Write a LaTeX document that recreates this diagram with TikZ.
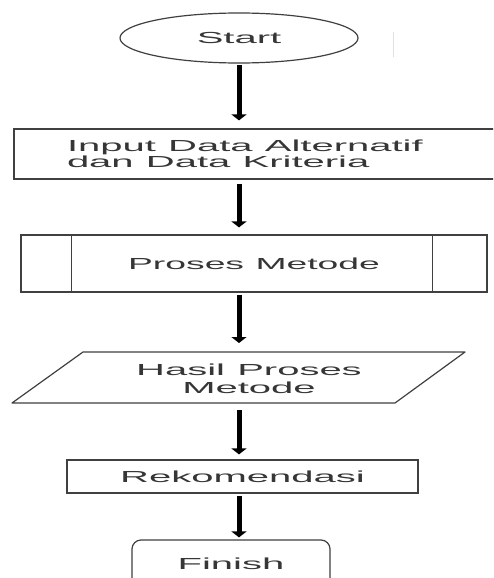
\documentclass[tikz,border=0pt]{standalone}
\usepackage{fontspec}
\newfontfamily\widesans[FakeStretch=2.5,WordSpace=1.1]{Liberation Sans}
\newfontfamily\narrowsans[FakeStretch=2.33,WordSpace=1.1]{Liberation Sans}
\usetikzlibrary{shapes.geometric,arrows.meta,calc}
\definecolor{txt}{HTML}{363636}
\definecolor{edge}{HTML}{404040}
\begin{document}
\begin{tikzpicture}[x=1pt,y=-1pt,
  lbl/.style={inner sep=0pt,text=txt,font=\widesans\fontsize{16}{16}\selectfont},
  box/.style={lbl,draw=edge,line width=1.2pt,rectangle},
  arr/.style={line width=5pt,-{Triangle[width=15pt,length=6pt]}}]
\clip (0,0) rectangle (493,578);
\fill[white] (0,0) rectangle (493,578);
% start
\node[box,ellipse,minimum width=238pt,minimum height=50pt] (start) at (239,38) {Start};
\draw[black!12,line width=1pt] (393,32) -- (393,57);
% input
\node[box,minimum width=486pt,minimum height=50pt,text width=486pt,align=left,font=\widesans\fontsize{16}{16}\selectfont] (input) at (257,154)
  {\spaceskip=0pt\xspaceskip=0pt\relax\hspace*{53pt}Input Data Alternatif\\\hspace*{53pt}dan Data Kriteria};
% proses
\node[box,minimum width=466pt,minimum height=57pt,font=\narrowsans\fontsize{16}{16}\selectfont] (proses) at (254,263.5) {Proses Metode};
\draw[edge,line width=1.2pt] ($(proses.north west)+(51,0)$) -- ($(proses.south west)+(51,0)$);
\draw[edge,line width=1.2pt] ($(proses.north east)+(-55,0)$) -- ($(proses.south east)+(-55,0)$);
% hasil
\node[lbl,minimum width=300pt,minimum height=51pt,align=center,font=\widesans\fontsize{16}{18}\selectfont] (hasil) at (249,378.5) {Hasil Proses\\Metode};
\draw[edge,line width=1.2pt,line join=round] (83,352) -- (465,352) -- (395,403) -- (12,403) -- cycle;
% rekomendasi
\node[box,minimum width=351pt,minimum height=33pt] (rekom) at (242.5,476.5) {Rekomendasi};
% finish
\node[box,rounded corners=9pt,minimum width=198pt,minimum height=47pt] (finish) at (231,563.5) {Finish};
% arrows
\draw[arr,shorten <=1pt,shorten >=8pt] (start.south) -- (start.south |- input.north);
\draw[arr,shorten <=4pt,shorten >=7pt] (input.south -| start.south) -- (proses.north -| start.south);
\draw[arr,shorten <=2pt,shorten >=9pt] (proses.south -| start.south) -- (start.south |- 0,352);
\draw[arr,shorten <=7pt,shorten >=5pt] (start.south |- 0,403) -- (rekom.north -| start.south);
\draw[arr,shorten <=2pt,shorten >=2pt] (rekom.south -| start.south) -- (finish.north -| start.south);
\end{tikzpicture}
\end{document}
